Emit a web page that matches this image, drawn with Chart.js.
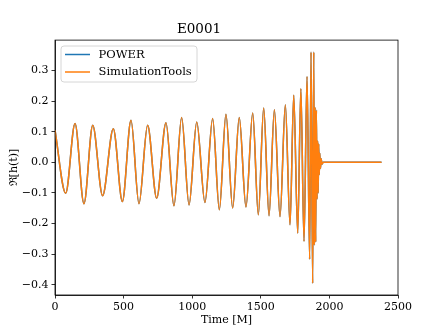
<!DOCTYPE html>
<html>
<head>
<meta charset="utf-8">
<script src="https://cdn.jsdelivr.net/npm/chart.js@4.4.1/dist/chart.umd.min.js"></script>
<style>
  html, body { margin: 0; padding: 0; background: #fff; }
  #wrap { width: 443px; height: 332px; }
</style>
</head>
<body>
<div id="wrap"><canvas id="chart" width="443" height="332"></canvas></div>
<script>
// time [M] of each turning point of the waveform
var timeM = [0, 78, 146, 211, 275, 347, 425, 491, 554, 612, 675, 741, 809, 867, 923, 977,
  1033, 1093, 1149, 1198, 1246, 1295, 1343, 1392, 1441, 1482, 1521, 1560, 1599, 1640,
  1679, 1713, 1740, 1769, 1792, 1815, 1837, 1856, 1866, 1878, 1886,
  1890, 1895, 1900, 1905, 1910, 1914, 1918, 1922, 1926, 1930, 1935, 1940, 1946, 1955, 2380];
// Re[h(t)] at those times
var reH = [0.105, -0.101, 0.127, -0.135, 0.121, -0.109, 0.110, -0.128, 0.137, -0.135, 0.121,
  -0.117, 0.129, -0.142, 0.146, -0.139, 0.132, -0.131, 0.143, -0.155, 0.157, -0.149, 0.146,
  -0.146, 0.161, -0.171, 0.177, -0.174, 0.172, -0.177, 0.188, -0.204, 0.219, -0.231, 0.240,
  -0.258, 0.280, -0.316, 0.360, -0.395, 0.360,
  -0.27, 0.18, -0.26, 0.17, -0.12, 0.07, -0.10, 0.06, -0.04, 0.03, -0.02, 0.012, -0.006, 0.0, 0.0];

var seriesNames = ['POWER', 'SimulationTools'];
var seriesColors = ['#1f77b4', '#ff7f0e'];
var xTicks = [0, 500, 1000, 1500, 2000, 2500];
var yTicks = [-0.4, -0.3, -0.2, -0.1, 0.0, 0.1, 0.2, 0.3];

var serif = "'DejaVu Serif', 'Liberation Serif', serif";

var points = timeM.map(function(t, i) { return { x: t, y: reH[i] }; });

// frame on all four sides + legend box like matplotlib
var framePlugin = {
  id: 'frame',
  afterDraw: function(chart) {
    var ctx = chart.ctx, a = chart.chartArea;
    ctx.save();
    ctx.strokeStyle = '#000';
    ctx.lineWidth = 0.8;
    ctx.strokeRect(a.left, a.top, a.right - a.left, a.bottom - a.top);

    // legend
    var bx = 61, by = 46, bw = 136, bh = 36, r = 3;
    ctx.beginPath();
    ctx.moveTo(bx + r, by);
    ctx.arcTo(bx + bw, by, bx + bw, by + bh, r);
    ctx.arcTo(bx + bw, by + bh, bx, by + bh, r);
    ctx.arcTo(bx, by + bh, bx, by, r);
    ctx.arcTo(bx, by, bx + bw, by, r);
    ctx.closePath();
    ctx.fillStyle = 'rgba(255,255,255,0.8)';
    ctx.fill();
    ctx.strokeStyle = '#d6d6d6';
    ctx.lineWidth = 1;
    ctx.stroke();

    ctx.font = '11.5px ' + serif;
    ctx.textBaseline = 'middle';
    ctx.textAlign = 'left';
    chart.data.datasets.forEach(function(ds, i) {
      var y = 54.5 + i * 17.5;
      ctx.strokeStyle = ds.borderColor;
      ctx.lineWidth = 1.5;
      ctx.beginPath();
      ctx.moveTo(65, y);
      ctx.lineTo(90, y);
      ctx.stroke();
      ctx.fillStyle = '#000';
      ctx.fillText(ds.label, 98.5, y + 0.5);
    });
    ctx.restore();
  }
};

function fmt(v) {
  return (v < 0 ? '\u2212' : '') + Math.abs(v).toFixed(1);
}

new Chart(document.getElementById('chart').getContext('2d'), {
  type: 'line',
  data: {
    datasets: seriesNames.map(function(name, i) {
      return {
        label: name,
        data: points,
        borderColor: seriesColors[i],
        backgroundColor: seriesColors[i],
        borderWidth: 1.5,
        pointRadius: 0,
        fill: false,
        cubicInterpolationMode: 'monotone',
        order: seriesNames.length - i
      };
    })
  },
  options: {
    responsive: false,
    animation: false,
    devicePixelRatio: 1,
    layout: { padding: { top: 0, left: 0, right: 45, bottom: 0 } },
    plugins: {
      legend: { display: false },
      tooltip: { enabled: false },
      title: {
        display: true,
        text: 'E0001',
        color: '#000',
        font: { family: serif, size: 13.5, weight: 'normal' },
        padding: { top: 21.5, bottom: 2.4 }
      }
    },
    scales: {
      x: {
        type: 'linear',
        min: 0,
        max: 2500,
        afterBuildTicks: function(s) { s.ticks = xTicks.map(function(v) { return { value: v }; }); },
        afterFit: function(s) { s.height = 37; },
        grid: { drawOnChartArea: false, drawTicks: true, tickLength: 3.5, color: '#000', lineWidth: 0.8 },
        border: { display: true, color: '#000', width: 0.8 },
        ticks: {
          color: '#000',
          padding: 2,
          maxRotation: 0,
          font: { family: serif, size: 11 },
          callback: function(v) { return String(v); }
        },
        title: {
          display: true,
          text: 'Time [M]',
          color: '#000',
          font: { family: serif, size: 11 },
          padding: { top: 0, bottom: 5.5 }
        }
      },
      y: {
        type: 'linear',
        min: -0.433,
        max: 0.399,
        afterBuildTicks: function(s) { s.ticks = yTicks.map(function(v) { return { value: v }; }); },
        afterFit: function(s) { s.width = 55; },
        grid: { drawOnChartArea: false, drawTicks: true, tickLength: 3.5, color: '#000', lineWidth: 0.8 },
        border: { display: true, color: '#000', width: 0.8 },
        ticks: {
          color: '#000',
          padding: 3,
          font: { family: serif, size: 11 },
          callback: function(v) { return fmt(v); }
        },
        title: {
          display: true,
          text: '\u211C[h(t)]',
          color: '#000',
          font: { family: serif, size: 11 },
          padding: { top: 8, bottom: 0 }
        }
      }
    }
  },
  plugins: [framePlugin]
});
</script>
</body>
</html>
